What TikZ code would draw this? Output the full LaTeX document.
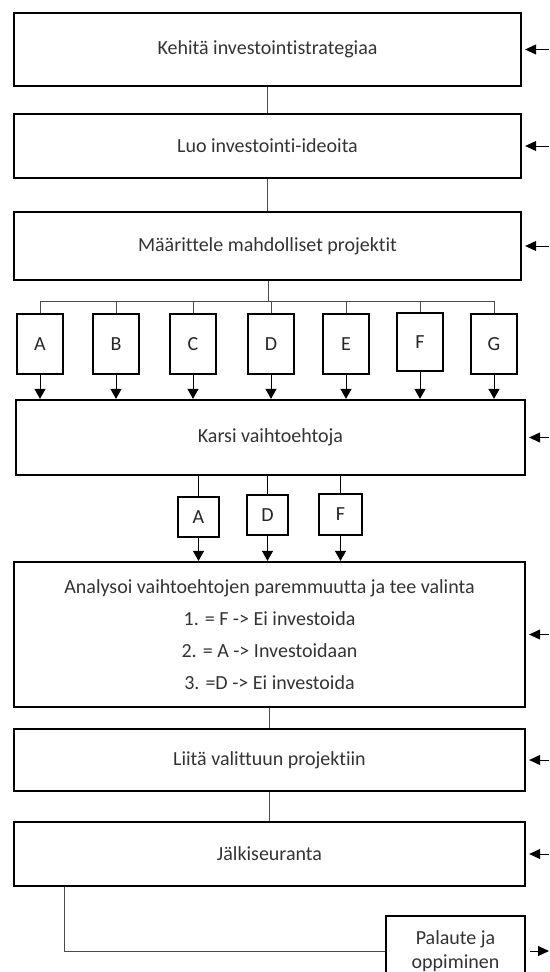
\documentclass[tikz,border=0pt]{standalone}
\usepackage{fontspec}
\setmainfont{Carlito}[Ligatures=NoCommon]
\usetikzlibrary{arrows.meta}

\tikzset{
  box/.style={draw, line width=2.3pt, minimum width=507pt, inner sep=0pt, text=black!80, font=\fontsize{20}{24}\selectfont},
  opt/.style={draw, line width=2.3pt, minimum width=46pt, minimum height=60pt, inner sep=0pt, text=black!85, font=\fontsize{20}{24}\selectfont},
  link/.style={draw=black!70, line width=1pt},
  down/.style={link, draw=black, -{Triangle[width=11pt,length=10pt]}},
  side/.style={draw=black, line width=1pt, -{Triangle[width=10pt,length=11pt]}, shorten >=3pt}
}

\begin{document}
\begin{tikzpicture}[x=1pt, y=-1pt]
\useasboundingbox (0,0) rectangle (549,972);

                \node[box, minimum height=73pt] (K1) at (267.5,49.5) {Kehitä investointistrategiaa};
                \node[box, minimum height=64pt] (K2) at (267.5,146) {Luo investointi-ideoita};
                \node[box, minimum height=68pt] (K3) at (267.5,246) {Määrittele mahdolliset projektit};

                \node[opt] (A) at (40,344) {A};
                \node[opt] (B) at (116,344) {B};
                \node[opt] (C) at (193,344) {C};
                \node[opt] (D) at (271,344) {D};
                \node[opt] (E) at (346,344) {E};
                \node[opt, minimum height=58pt] (F) at (420,342) {F};
                \node[opt] (G) at (494,344) {G};

                \node[box, minimum width=509pt, minimum height=75pt] (K4) at (270.5,437.5) {Karsi vaihtoehtoja};

                \node[opt, minimum width=41pt, minimum height=40pt] (A2) at (198.5,517) {A};
                \node[opt, minimum width=41pt, minimum height=40pt] (D2) at (267.5,515) {D};
                \node[opt, minimum width=43pt, minimum height=41pt] (F2) at (340.5,514.5) {F};

                \node[box, minimum width=511pt, minimum height=145pt, align=center] (K5) at (269.5,634.5)
                    {Analysoi vaihtoehtojen paremmuutta ja tee valinta\\[8pt]
                     1. = F -> Ei investoida\\[8pt]
                     2. = A -> Investoidaan\\[8pt]
                     3. =D -> Ei investoida};
                \node[box, minimum width=511pt, minimum height=62pt] (K6) at (269.5,760) {Liitä valittuun projektiin};
                \node[box, minimum width=511pt, minimum height=64pt] (K7) at (269.5,854) {Jälkiseuranta};
                \node[box, minimum width=139pt, minimum height=70pt, align=center] (P) at (455.5,951)
                    {Palaute ja\\ oppiminen};

                % main chain
                \draw[link] (K1) -- (K2);
                \draw[link] (K2) -- (K3);
                \draw[link] (K5.south -| K6) -- (K6);
                \draw[link] (K6) -- (K7);
                \draw[link] ([xshift=52pt]K7.south west) |- (P.west);

                % branches
                \coordinate (bus) at (268,301);
                \draw[link] (K3.south -| bus) -- (bus);
                \draw[link] (A.north |- bus) -- (G.north |- bus);
                \foreach \n in {A,B,C,D,E,F,G} {
                    \draw[link] (\n.north |- bus) -- (\n.north);
                    \draw[down] (\n.south) -- (\n.south |- K4.north);
                }
                \foreach \n in {A2,D2,F2} {
                    \draw[link, draw=black] (\n.north |- K4.south) -- (\n.north);
                    \draw[down] (\n.south) -- (\n.south |- K5.north);
                }

                % side inputs
                \foreach \n in {K1,K2,K3,K4,K5,K6,K7}
                    \draw[side] (\n.east -| 549,0) -- (\n.east);
                \draw[side, shorten >=0pt, shorten <=4pt] (P.east) -- (P.east -| 549,0);
            \end{tikzpicture}
\end{document}
